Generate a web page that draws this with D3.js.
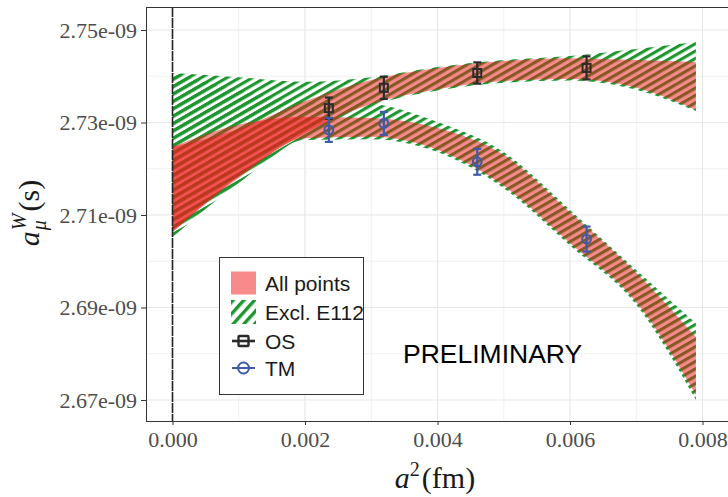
<!DOCTYPE html>
<html>
<head>
<meta charset="utf-8">
<script src="https://cdn.jsdelivr.net/npm/d3@7"></script>
<style>
  body { margin: 0; background: #fff; }
  svg { display: block; }
</style>
</head>
<body>
<svg id="chart" width="728" height="497"></svg>
<script>
// a^2 (fm^2) at which the fit bands are tabulated
const bandA2 = [0, 0.001, 0.002, 0.003, 0.004, 0.005, 0.006, 0.007, 0.0079];

// Fit bands, values in units of 1e-9
// OS, all points
const osAllHi = [2.7247, 2.7286, 2.7346, 2.7392, 2.7418, 2.7433, 2.7439, 2.7435, 2.7431];
const osAllLo = [2.7063, 2.7184, 2.7277, 2.7340, 2.7372, 2.7390, 2.7394, 2.7375, 2.7327];
// OS, excluding E112
const osExclHi = [2.7407, 2.7398, 2.7388, 2.7398, 2.7420, 2.7435, 2.7444, 2.7459, 2.7474];
const osExclLo = [2.7057, 2.7171, 2.7273, 2.7336, 2.7369, 2.7386, 2.7391, 2.7371, 2.7325];
// TM, all points
const tmAllHi = [2.7247, 2.7295, 2.7312, 2.7310, 2.7288, 2.7230, 2.7106, 2.6975, 2.6836];
const tmAllLo = [2.7063, 2.7180, 2.7266, 2.7269, 2.7241, 2.7163, 2.7039, 2.6912, 2.6711];
// TM, excluding E112
const tmExclHi = [2.7407, 2.7370, 2.7344, 2.7340, 2.7301, 2.7236, 2.7111, 2.6981, 2.6866];
const tmExclLo = [2.7052, 2.7169, 2.7262, 2.7264, 2.7236, 2.7158, 2.7034, 2.6906, 2.6700];

// Lattice data
const pointA2 = [0.00236, 0.00319, 0.00460, 0.00625];
const osValue = [2.7331, 2.7375, 2.7407, 2.7418];
const osError = [0.0023, 0.0024, 0.0023, 0.0025];
const tmValue = [2.7284, 2.7298, 2.7215, 2.7048];
const tmError = [0.0026, 0.0025, 0.0028, 0.0027];

// Axis ticks
const xTicks = [0, 0.002, 0.004, 0.006, 0.008];
const xMinor = [0.001, 0.003, 0.005, 0.007];
const yTicks = [2.67, 2.69, 2.71, 2.73, 2.75];
const yMinor = [2.68, 2.70, 2.72, 2.74];

const legendLabels = ["All points", "Excl. E112", "OS", "TM"];

const RED = "#f01818", GREEN = "#1e9630", OS_COL = "#2b2b2b", TM_COL = "#3d5ba9";
const SERIF = "'Liberation Serif', 'DejaVu Serif', serif";
const SANS = "'Liberation Sans', Arial, sans-serif";

const svg = d3.select("#chart");
const panel = { left: 146, right: 736, top: 7, bottom: 421 };

const x = d3.scaleLinear().domain([-0.0004, 0.0085]).range([panel.left, panel.left + 0.0089 * 66250]);
const y = d3.scaleLinear().domain([2.665459, 2.754973]).range([panel.bottom, panel.top]);

const defs = svg.append("defs");
defs.append("clipPath").attr("id", "panelClip")
  .append("rect").attr("x", panel.left).attr("y", panel.top)
  .attr("width", panel.right - panel.left).attr("height", panel.bottom - panel.top);

// diagonal hatching used for the "Excl. E112" bands
const hatch = defs.append("pattern").attr("id", "hatch")
  .attr("patternUnits", "userSpaceOnUse").attr("width", 12).attr("height", 6.4)
  .attr("patternTransform", "rotate(-30)");
hatch.append("rect").attr("x", 0).attr("y", 0).attr("width", 12).attr("height", 3.1).attr("fill", GREEN);

const hatchKey = defs.append("pattern").attr("id", "hatchKey")
  .attr("patternUnits", "userSpaceOnUse").attr("width", 12).attr("height", 8)
  .attr("patternTransform", "translate(231,300) rotate(-48)");
hatchKey.append("rect").attr("x", 0).attr("y", 0).attr("width", 12).attr("height", 3.4).attr("fill", GREEN);

// panel background and grid
svg.append("rect").attr("x", panel.left).attr("y", panel.top)
  .attr("width", panel.right - panel.left).attr("height", panel.bottom - panel.top).attr("fill", "#fff");

const grid = svg.append("g").attr("clip-path", "url(#panelClip)");
grid.selectAll(".xmin").data(xMinor).join("line")
  .attr("x1", d => x(d)).attr("x2", d => x(d)).attr("y1", panel.top).attr("y2", panel.bottom)
  .attr("stroke", "#f0f0f0").attr("stroke-width", 1);
grid.selectAll(".ymin").data(yMinor).join("line")
  .attr("y1", d => y(d)).attr("y2", d => y(d)).attr("x1", panel.left).attr("x2", panel.right)
  .attr("stroke", "#f0f0f0").attr("stroke-width", 1);
grid.selectAll(".xmaj").data(xTicks).join("line")
  .attr("x1", d => x(d)).attr("x2", d => x(d)).attr("y1", panel.top).attr("y2", panel.bottom)
  .attr("stroke", "#e6e6e6").attr("stroke-width", 1.1);
grid.selectAll(".ymaj").data(yTicks).join("line")
  .attr("y1", d => y(d)).attr("y2", d => y(d)).attr("x1", panel.left).attr("x2", panel.right)
  .attr("stroke", "#e6e6e6").attr("stroke-width", 1.1);

// bands
const bandData = (lo, hi) => bandA2.map((a, i) => ({ a, lo: lo[i], hi: hi[i] }));
const area = d3.area()
  .x(d => x(d.a)).y0(d => y(d.lo)).y1(d => y(d.hi))
  .curve(d3.curveMonotoneX);

const plot = svg.append("g").attr("clip-path", "url(#panelClip)");
[[osExclLo, osExclHi], [tmExclLo, tmExclHi]].forEach(([lo, hi]) => {
  plot.append("path").datum(bandData(lo, hi)).attr("d", area).attr("fill", "url(#hatch)");
});
[[osAllLo, osAllHi], [tmAllLo, tmAllHi]].forEach(([lo, hi]) => {
  plot.append("path").datum(bandData(lo, hi)).attr("d", area)
    .attr("fill", RED).attr("fill-opacity", 0.5);
});

// continuum limit marker
plot.append("line").attr("x1", x(0)).attr("x2", x(0)).attr("y1", panel.top).attr("y2", panel.bottom)
  .attr("stroke", "#222").attr("stroke-width", 1.6).attr("stroke-dasharray", "10,1");

// data points with error bars
function drawSeries(vals, errs, color, shape) {
  const g = plot.append("g");
  vals.forEach((v, i) => {
    const cx = x(pointA2[i]);
    const yt = y(v + errs[i]), yb = y(v - errs[i]);
    g.append("line").attr("x1", cx).attr("x2", cx).attr("y1", yt).attr("y2", yb)
      .attr("stroke", color).attr("stroke-width", 2.2);
    [yt, yb].forEach(yy => g.append("line").attr("x1", cx - 4).attr("x2", cx + 4)
      .attr("y1", yy).attr("y2", yy).attr("stroke", color).attr("stroke-width", 2.2));
    if (shape === "square") {
      g.append("rect").attr("x", cx - 4).attr("y", y(v) - 4).attr("width", 8).attr("height", 8)
        .attr("fill", "none").attr("stroke", color).attr("stroke-width", 2);
    } else {
      g.append("circle").attr("cx", cx).attr("cy", y(v)).attr("r", 4.4)
        .attr("fill", "none").attr("stroke", color).attr("stroke-width", 2);
    }
  });
}
drawSeries(osValue, osError, OS_COL, "square");
drawSeries(tmValue, tmError, TM_COL, "circle");

// panel border
svg.append("rect").attr("x", panel.left + 0.5).attr("y", panel.top + 0.5)
  .attr("width", panel.right - panel.left).attr("height", panel.bottom - panel.top)
  .attr("fill", "none").attr("stroke", "#333").attr("stroke-width", 1);

// axes
const yAxis = svg.append("g").attr("transform", `translate(${panel.left},0)`)
  .call(d3.axisLeft(y).tickValues(yTicks).tickFormat(d => d.toFixed(2) + "e-09").tickSize(5).tickPadding(4));
const xAxis = svg.append("g").attr("transform", `translate(0,${panel.bottom})`)
  .call(d3.axisBottom(x).tickValues(xTicks).tickFormat(d3.format(".3f")).tickSize(4).tickPadding(6));
[yAxis, xAxis].forEach(ax => {
  ax.select(".domain").remove();
  ax.selectAll(".tick line").attr("stroke", "#333");
  ax.selectAll(".tick text").attr("font-family", SERIF).attr("font-size", 22).attr("fill", "#4d4d4d");
});

// axis titles
const xt = svg.append("text").attr("x", 435).attr("y", 488).attr("text-anchor", "middle")
  .attr("font-family", SERIF).attr("font-size", 30).attr("fill", "#1a1a1a");
xt.append("tspan").attr("font-style", "italic").text("a");
xt.append("tspan").attr("font-size", 20).attr("dy", -12).text("2");
xt.append("tspan").attr("dy", 12).attr("dx", 2).text("(fm)");

const yt = svg.append("g").attr("transform", "translate(39,213) rotate(-90)")
  .attr("font-family", SERIF).attr("fill", "#1a1a1a");
const pa = yt.append("text").attr("font-size", 30).attr("font-style", "italic").text("a");
const pW = yt.append("text").attr("font-size", 20).attr("font-style", "italic").text("W");
const pMu = yt.append("text").attr("font-size", 20).attr("font-style", "italic").text("μ");
const pS = yt.append("text").attr("font-size", 30).text("(s)");
const wa = pa.node().getComputedTextLength();
const wW = pW.node().getComputedTextLength();
const wMu = pMu.node().getComputedTextLength();
const wS = pS.node().getComputedTextLength();
const total = wa + 1 + Math.max(wW, wMu) + 2 + wS;
const x0 = -total / 2;
pa.attr("x", x0).attr("y", 0);
pW.attr("x", x0 + wa + 1).attr("y", -13);
pMu.attr("x", x0 + wa + 1).attr("y", 7);
pS.attr("x", x0 + wa + 1 + Math.max(wW, wMu) + 2).attr("y", 0);

// legend
const lg = svg.append("g");
lg.append("rect").attr("x", 219.5).attr("y", 257.5).attr("width", 144).attr("height", 137)
  .attr("fill", "#fff").attr("stroke", "#333").attr("stroke-width", 1);
const rowY = [283, 312, 341, 368];
lg.append("rect").attr("x", 231).attr("y", rowY[0] - 11.5).attr("width", 25).attr("height", 23)
  .attr("fill", RED).attr("fill-opacity", 0.5);
lg.append("rect").attr("x", 231).attr("y", rowY[1] - 12).attr("width", 25).attr("height", 24)
  .attr("fill", "url(#hatchKey)");
// OS key
lg.append("line").attr("x1", 232).attr("x2", 255).attr("y1", rowY[2]).attr("y2", rowY[2])
  .attr("stroke", OS_COL).attr("stroke-width", 2.6);
lg.append("rect").attr("x", 238.5).attr("y", rowY[2] - 5).attr("width", 10).attr("height", 10)
  .attr("fill", "none").attr("stroke", OS_COL).attr("stroke-width", 2.4).attr("rx", 1);
// TM key
lg.append("line").attr("x1", 232).attr("x2", 255).attr("y1", rowY[3]).attr("y2", rowY[3])
  .attr("stroke", TM_COL).attr("stroke-width", 2);
lg.append("circle").attr("cx", 243.5).attr("cy", rowY[3]).attr("r", 5.5)
  .attr("fill", "none").attr("stroke", TM_COL).attr("stroke-width", 2);
lg.selectAll(".lab").data(legendLabels).join("text")
  .attr("x", 265).attr("y", (d, i) => rowY[i]).attr("dy", "0.36em")
  .attr("font-family", SANS).attr("font-size", 21).attr("fill", "#1a1a1a").text(d => d);

// watermark
svg.append("text").attr("x", 403).attr("y", 363).attr("font-family", SANS).attr("font-size", 26.5)
  .attr("fill", "#000").text("PRELIMINARY");
</script>
</body>
</html>
